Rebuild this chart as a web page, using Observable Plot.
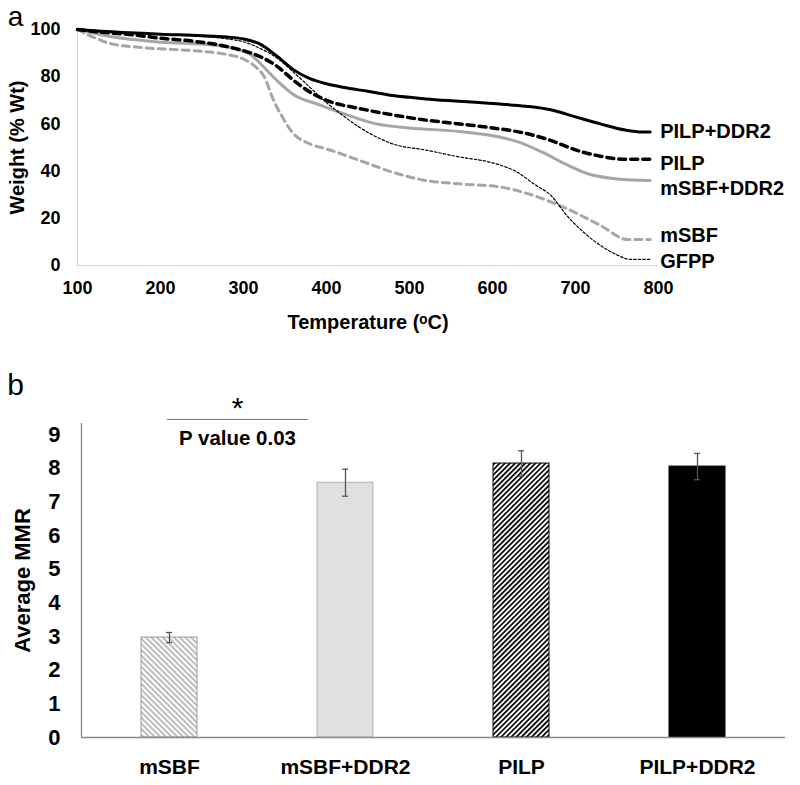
<!DOCTYPE html>
<html>
<head>
<meta charset="utf-8">
<script src="https://cdn.jsdelivr.net/npm/d3@7"></script>
<script src="https://cdn.jsdelivr.net/npm/@observablehq/plot@0.6"></script>
<style>
  body { margin: 0; background: #fff; }
  #wrap { position: relative; width: 800px; height: 785px; background: #fff; }
  #top, #bottom { position: absolute; left: 0; }
  #top { top: 0; }
  #bottom { top: 370px; }
</style>
</head>
<body>
<div id="wrap"><div id="top"></div><div id="bottom"></div></div>
<script>
// ---------- Panel a: TGA curves ----------
const seriesNames = ["mSBF", "mSBF+DDR2", "GFPP", "PILP", "PILP+DDR2"];

const tMSBF = [100, 120, 140, 180, 240, 280, 300, 315, 325, 335, 345, 360, 380, 400, 440, 480, 520, 560, 610, 650, 690, 730, 763, 790];
const wMSBF = [100, 96.6, 94, 92.3, 91, 89.4, 87.5, 84, 80, 71, 64, 56, 51.5, 49.4, 44.5, 39.5, 36, 34.6, 33.2, 29.6, 24, 17, 11, 11];

const tMSBFDDR2 = [100, 140, 200, 260, 290, 310, 320, 340, 360, 390, 420, 460, 500, 560, 600, 630, 660, 690, 714, 750, 790];
const wMSBFDDR2 = [100, 97, 94.6, 93.5, 91.8, 89, 85.7, 78.5, 72.5, 68.3, 64.4, 60, 58.3, 56.8, 55, 52.5, 48, 42.6, 39, 36.7, 36];

const tGFPP = [100, 200, 280, 300, 320, 340, 360, 380, 400, 420, 440, 460, 480, 520, 560, 600, 630, 650, 670, 690, 710, 730, 750, 766, 790];
const wGFPP = [100, 98, 96, 94.8, 92, 88, 82, 75.5, 69, 63.5, 58.5, 54.5, 51.5, 48.9, 46, 43.5, 39.5, 34.5, 29.8, 21, 14, 8.5, 4.5, 2.6, 2.6];

const tPILP = [100, 130, 160, 200, 240, 280, 300, 320, 340, 360, 380, 400, 440, 480, 520, 560, 600, 640, 670, 700, 730, 760, 790];
const wPILP = [100, 98.8, 98, 96.3, 95, 92.8, 91, 88.5, 84.5, 78.6, 73.5, 70, 66.5, 63.8, 61.6, 60, 58.3, 56, 53, 49, 46.3, 45, 45];

const tPILPDDR2 = [100, 150, 200, 250, 280, 300, 320, 340, 360, 380, 400, 420, 450, 480, 520, 560, 600, 640, 670, 700, 730, 760, 780, 790];
const wPILPDDR2 = [100, 98.8, 98, 97.4, 96.8, 96, 93.8, 88.8, 83, 79.2, 77, 75.5, 73.8, 72, 70.6, 69.6, 68.6, 67.5, 66, 63, 60, 57.4, 56.6, 56.6];

const xTicksA = [100, 200, 300, 400, 500, 600, 700, 800];
const yTicksA = [0, 20, 40, 60, 80, 100];

const curves = {
  "mSBF": [tMSBF, wMSBF],
  "mSBF+DDR2": [tMSBFDDR2, wMSBFDDR2],
  "GFPP": [tGFPP, wGFPP],
  "PILP": [tPILP, wPILP],
  "PILP+DDR2": [tPILPDDR2, wPILPDDR2]
};

const lineStyle = {
  "mSBF":      {stroke: "#a6a6a6", strokeWidth: 3,   strokeDasharray: "7,5", labelDy: -4},
  "mSBF+DDR2": {stroke: "#a6a6a6", strokeWidth: 3,   strokeDasharray: null,  labelDy: 8},
  "GFPP":      {stroke: "#000",    strokeWidth: 1.2, strokeDasharray: "2.5,2", labelDy: 2},
  "PILP":      {stroke: "#000",    strokeWidth: 3.5, strokeDasharray: "7,5", labelDy: 4},
  "PILP+DDR2": {stroke: "#000",    strokeWidth: 3,   strokeDasharray: null,  labelDy: 0}
};

const FONT = "'Liberation Sans', Arial, Helvetica, sans-serif";

const marksA = [];
marksA.push(Plot.ruleX([100], {y1: 0, y2: 100, stroke: "#d3d3d3", strokeWidth: 1.2}));
marksA.push(Plot.ruleY([0], {x1: 100, x2: 800, stroke: "#d3d3d3", strokeWidth: 1.2}));
for (const name of seriesNames) {
  const [T, W] = curves[name];
  const rows = T.map((t, i) => ({t, w: W[i]}));
  const s = lineStyle[name];
  marksA.push(Plot.line(rows, {
    x: "t", y: "w", curve: "monotone-x",
    stroke: s.stroke, strokeWidth: s.strokeWidth,
    strokeDasharray: s.strokeDasharray || undefined
  }));
  marksA.push(Plot.text([rows[rows.length - 1]], {
    x: "t", y: "w", text: () => name, textAnchor: "start",
    dx: 10, dy: s.labelDy, fontSize: 20, fontWeight: "bold", fill: "#000"
  }));
}
marksA.push(Plot.axisX({ticks: xTicksA, tickSize: 0, tickPadding: 16, fontSize: 18, fontWeight: "bold", label: null}));
marksA.push(Plot.axisY({ticks: yTicksA, tickSize: 0, tickPadding: 17, fontSize: 18, fontWeight: "bold", label: null}));
marksA.push(Plot.text(["Temperature (\u1D52C)"], {frameAnchor: "bottom", dy: 57, fontSize: 20, fontWeight: "bold", lineAnchor: "middle"}));
marksA.push(Plot.text(["Weight (% Wt)"], {frameAnchor: "left", dx: -60, rotate: -90, textAnchor: "middle", lineAnchor: "middle", fontSize: 20, fontWeight: "bold"}));
marksA.push(Plot.text(["a"], {frameAnchor: "top-left", dx: -62, dy: -4, fontSize: 28, textAnchor: "middle", lineAnchor: "bottom"}));

const chartA = Plot.plot({
  width: 800, height: 345,
  marginLeft: 77, marginRight: 142, marginTop: 29, marginBottom: 80,
  style: {fontFamily: FONT, color: "#000", background: "#fff", overflow: "visible"},
  x: {domain: [100, 800]},
  y: {domain: [0, 100]},
  marks: marksA
});
document.getElementById("top").appendChild(chartA);

// ---------- Panel b: Average MMR ----------
const groups = ["mSBF", "mSBF+DDR2", "PILP", "PILP+DDR2"];
const mmr    = [2.97, 7.57, 8.14, 8.05];
const mmrErr = [0.15, 0.40, 0.38, 0.39];
const yTicksB = [0, 1, 2, 3, 4, 5, 6, 7, 8, 9];
const pLabel = "P value 0.03";

const barData = groups.map((g, i) => ({g, v: mmr[i], e: mmrErr[i]}));

const barStyle = {
  "mSBF":      {fill: "url(#hatchLight)", stroke: "#9a9a9a"},
  "mSBF+DDR2": {fill: "#e0e0e0",          stroke: "#b0b0b0"},
  "PILP":      {fill: "url(#hatchDark)",  stroke: "#000"},
  "PILP+DDR2": {fill: "#000",             stroke: "#000"}
};

function defsMark() {
  const ns = "http://www.w3.org/2000/svg";
  const defs = document.createElementNS(ns, "defs");
  function pattern(id, size, angle, color, width) {
    const p = document.createElementNS(ns, "pattern");
    p.setAttribute("id", id);
    p.setAttribute("patternUnits", "userSpaceOnUse");
    p.setAttribute("width", size);
    p.setAttribute("height", size);
    p.setAttribute("patternTransform", `rotate(${angle})`);
    const bg = document.createElementNS(ns, "rect");
    bg.setAttribute("width", size); bg.setAttribute("height", size); bg.setAttribute("fill", "#fff");
    const l = document.createElementNS(ns, "line");
    l.setAttribute("x1", size / 2); l.setAttribute("x2", size / 2);
    l.setAttribute("y1", 0); l.setAttribute("y2", size);
    l.setAttribute("stroke", color); l.setAttribute("stroke-width", width);
    p.appendChild(bg); p.appendChild(l);
    defs.appendChild(p);
  }
  pattern("hatchLight", 4, -45, "#7a7a7a", 1);
  pattern("hatchDark", 3.6, 45, "#000", 1.7);
  return defs;
}

const marksB = [defsMark];
for (const d of barData) {
  const s = barStyle[d.g];
  marksB.push(Plot.barY([d], {x: "g", y: "v", fill: s.fill, stroke: s.stroke, strokeWidth: 1, insetLeft: 60, insetRight: 60}));
}
marksB.push(Plot.ruleX(barData, {x: "g", y1: d => d.v - d.e, y2: d => d.v + d.e, stroke: "#555", strokeWidth: 1.3}));
marksB.push(Plot.ruleY(barData, {x1: "g", x2: "g", y: d => d.v + d.e, stroke: "#555", strokeWidth: 1.3, insetLeft: 85, insetRight: 85}));
marksB.push(Plot.ruleY(barData, {x1: "g", x2: "g", y: d => d.v - d.e, stroke: "#555", strokeWidth: 1.3, insetLeft: 85, insetRight: 85}));
// axis lines
marksB.push(Plot.ruleY([0], {stroke: "#888", strokeWidth: 1.3}));
marksB.push(Plot.ruleX([groups[0]], {y1: 0, y2: 9.33, dx: -88, stroke: "#888", strokeWidth: 1.3}));
// significance annotation
marksB.push(Plot.ruleY([9.45], {x1: () => groups[0], x2: () => groups[0], insetLeft: 86, insetRight: -51, stroke: "#777", strokeWidth: 1}));
marksB.push(Plot.text(["*"], {x: () => groups[0], y: 9.77, dx: 68, fontSize: 30, fill: "#000"}));
marksB.push(Plot.text([pLabel], {x: () => groups[0], y: 8.88, dx: 68, fontSize: 20.5, fontWeight: "bold", fill: "#000"}));
marksB.push(Plot.axisX({tickSize: 0, tickPadding: 22, fontSize: 21, fontWeight: "bold", label: null}));
marksB.push(Plot.axisY({ticks: yTicksB, tickSize: 0, tickPadding: 21, fontSize: 22, fontWeight: "bold", label: null}));
marksB.push(Plot.text(["Average MMR"], {frameAnchor: "left", dx: -59, rotate: -90, textAnchor: "middle", lineAnchor: "middle", fontSize: 22, fontWeight: "bold"}));
marksB.push(Plot.text(["b"], {frameAnchor: "top-left", dx: -66, dy: -38, fontSize: 30, textAnchor: "middle", lineAnchor: "middle"}));

const chartB = Plot.plot({
  width: 800, height: 415,
  marginLeft: 81, marginRight: 15, marginTop: 53, marginBottom: 48,
  style: {fontFamily: FONT, color: "#000", background: "#fff", overflow: "visible"},
  x: {domain: groups, padding: 0},
  y: {domain: [0, 9.33]},
  marks: marksB
});
document.getElementById("bottom").appendChild(chartB);
</script>
</body>
</html>
